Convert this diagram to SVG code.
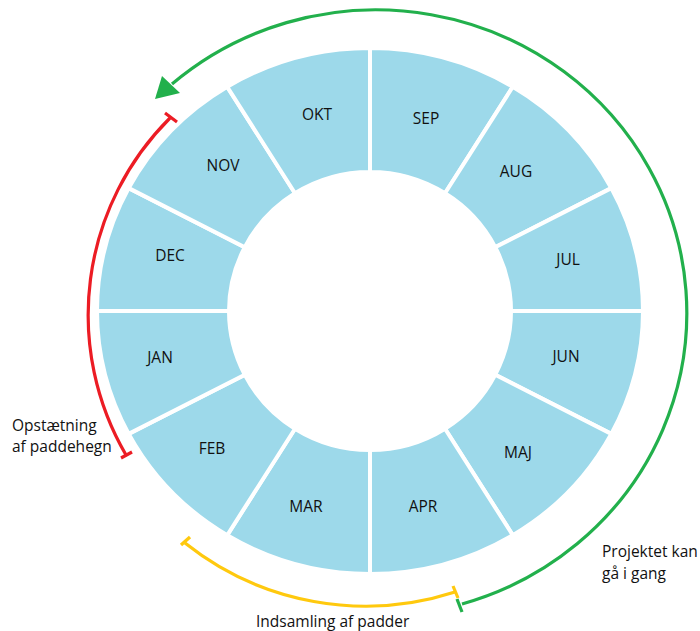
<svg xmlns="http://www.w3.org/2000/svg" width="700" height="631" viewBox="0 0 700 631">
<style>
.seg{fill:#9DD9EA;stroke:#ffffff;stroke-width:4;stroke-linejoin:miter}
.lbl{font-family:"Open Sans","Liberation Sans",sans-serif;font-size:15.5px;fill:#111111;text-anchor:middle}
.note{font-family:"Open Sans","Liberation Sans",sans-serif;font-size:15.5px;fill:#111111}
.arc{fill:none;stroke-width:3.2}
.green{stroke:#22B04C}
.red{stroke:#EC1C24}
.yellow{stroke:#FFC90E}
</style>
<rect width="700" height="631" fill="#ffffff"/>
<g id="SEP"><path class="seg" d="M370,48 A273,263 0 0 1 512.8,86.8 L445,193.3 A141,139 0 0 0 370,172 Z"/><text class="lbl" x="426" y="124">SEP</text></g>
<g id="AUG"><path class="seg" d="M512.8,86.8 A273,263 0 0 1 611.3,188.1 L495.2,247.2 A141,139 0 0 0 445,193.3 Z"/><text class="lbl" x="516" y="177">AUG</text></g>
<g id="JUL"><path class="seg" d="M611.3,188.1 A273,263 0 0 1 643,311 L511,311 A141,139 0 0 0 495.2,247.2 Z"/><text class="lbl" x="568" y="265">JUL</text></g>
<g id="JUN"><path class="seg" d="M643,311 A273,263 0 0 1 611.3,433.9 L495.2,374.8 A141,139 0 0 0 511,311 Z"/><text class="lbl" x="566" y="362">JUN</text></g>
<g id="MAJ"><path class="seg" d="M611.3,433.9 A273,263 0 0 1 512.8,535.2 L445,428.7 A141,139 0 0 0 495.2,374.8 Z"/><text class="lbl" x="518" y="458">MAJ</text></g>
<g id="APR"><path class="seg" d="M512.8,535.2 A273,263 0 0 1 370,574 L370,450 A141,139 0 0 0 445,428.7 Z"/><text class="lbl" x="423" y="512">APR</text></g>
<g id="MAR"><path class="seg" d="M370,574 A273,263 0 0 1 227.2,535.2 L295,428.7 A141,139 0 0 0 370,450 Z"/><text class="lbl" x="306" y="512">MAR</text></g>
<g id="FEB"><path class="seg" d="M227.2,535.2 A273,263 0 0 1 128.7,433.9 L244.8,374.8 A141,139 0 0 0 295,428.7 Z"/><text class="lbl" x="212" y="454">FEB</text></g>
<g id="JAN"><path class="seg" d="M128.7,433.9 A273,263 0 0 1 97,311 L229,311 A141,139 0 0 0 244.8,374.8 Z"/><text class="lbl" x="160" y="363">JAN</text></g>
<g id="DEC"><path class="seg" d="M97,311 A273,263 0 0 1 128.7,188.1 L244.8,247.2 A141,139 0 0 0 229,311 Z"/><text class="lbl" x="170" y="261">DEC</text></g>
<g id="NOV"><path class="seg" d="M128.7,188.1 A273,263 0 0 1 227.2,86.8 L295,193.3 A141,139 0 0 0 244.8,247.2 Z"/><text class="lbl" x="223" y="171">NOV</text></g>
<g id="OKT"><path class="seg" d="M227.2,86.8 A273,263 0 0 1 370,48 L370,172 A141,139 0 0 0 295,193.3 Z"/><text class="lbl" x="317" y="120">OKT</text></g>
<g id="connectors">
<path class="arc green" d="M462,604 A311,303 0 1 0 172,84"/>
<line class="arc green" x1="457" y1="599" x2="462" y2="612"/>
<polygon fill="#22B04C" points="155,99 162,76 180,93"/>
<path class="arc red" d="M170,118 A278,278 0 0 0 126,455"/>
<line class="arc red" x1="165" y1="113" x2="177" y2="122"/>
<line class="arc red" x1="121" y1="458" x2="132" y2="452"/>
<path class="arc yellow" d="M185,543 A290,290 0 0 0 455,592"/>
<line class="arc yellow" x1="181" y1="545" x2="190" y2="537"/>
<line class="arc yellow" x1="453" y1="586" x2="458" y2="598"/>
</g>
<g id="labels">
<text class="note" x="12" y="431">Opstætning</text>
<text class="note" x="12" y="452">af paddehegn</text>
<text class="note" x="256" y="627">Indsamling af padder</text>
<text class="note" x="602" y="557">Projektet kan</text>
<text class="note" x="602" y="579">gå i gang</text>
</g>
</svg>
